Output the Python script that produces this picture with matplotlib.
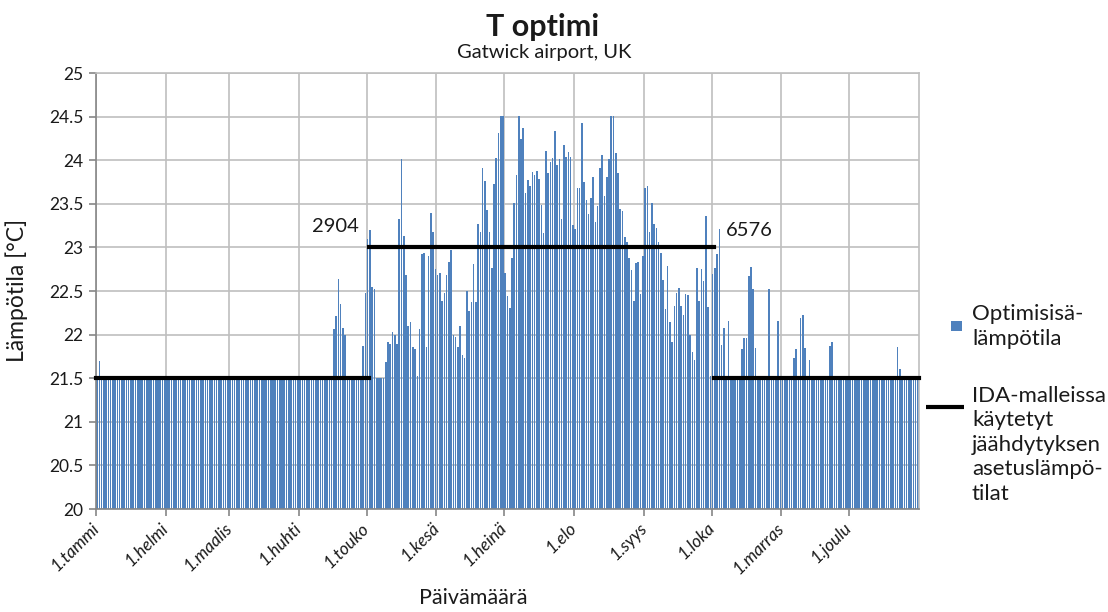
import matplotlib
matplotlib.use("Agg")
import matplotlib.pyplot as plt
import numpy as np
from matplotlib.lines import Line2D
from matplotlib.patches import Rectangle

plt.rcParams['font.family'] = ['Lato', 'DejaVu Sans']

# ---------------- data ----------------
month_labels = ["1.tammi", "1.helmi", "1.maalis", "1.huhti", "1.touko", "1.kesä",
                "1.heinä", "1.elo", "1.syys", "1.loka", "1.marras", "1.joulu"]
days_in_month = [31, 28, 31, 30, 31, 30, 31, 31, 30, 31, 30, 31]

t_jan = [21.5, 21.7, 21.5, 21.5, 21.5, 21.5, 21.5, 21.5, 21.5, 21.5,
         21.5, 21.5, 21.5, 21.5, 21.5, 21.5, 21.5, 21.5, 21.5, 21.5,
         21.5, 21.5, 21.5, 21.5, 21.5, 21.5, 21.5, 21.5, 21.5, 21.5, 21.5]
t_feb = [21.5, 21.5, 21.5, 21.5, 21.5, 21.5, 21.5, 21.5, 21.5, 21.5,
         21.5, 21.5, 21.5, 21.5, 21.5, 21.5, 21.5, 21.5, 21.5, 21.5,
         21.5, 21.5, 21.5, 21.5, 21.5, 21.5, 21.5, 21.5]
t_mar = [21.5, 21.5, 21.5, 21.5, 21.5, 21.5, 21.5, 21.5, 21.5, 21.5,
         21.5, 21.5, 21.5, 21.5, 21.5, 21.5, 21.5, 21.5, 21.5, 21.5,
         21.5, 21.5, 21.5, 21.5, 21.5, 21.5, 21.5, 21.5, 21.5, 21.5, 21.5]
t_apr = [21.5, 21.5, 21.5, 21.5, 21.5, 21.5, 21.5, 21.5, 21.5, 21.5,
         21.5, 21.5, 21.5, 21.5, 21.5, 22.06, 22.21, 22.64, 22.35, 22.08,
         22.0, 21.5, 21.5, 21.5, 21.5, 21.5, 21.5, 21.5, 21.87, 22.48]
t_may = [23.1, 23.2, 22.55, 22.52, 21.5, 21.5, 21.5, 21.5, 21.69, 21.92,
         21.89, 22.03, 22.0, 21.89, 23.32, 24.01, 23.13, 22.68, 22.1, 22.14,
         21.86, 21.83, 21.53, 22.06, 22.93, 22.94, 21.86, 22.9, 23.39, 23.18, 22.75]
t_jun = [22.68, 22.71, 22.38, 22.48, 22.68, 22.83, 22.97, 22.0, 21.97, 21.86,
         22.1, 21.77, 21.73, 22.5, 22.27, 22.37, 22.81, 22.37, 23.27, 23.18,
         23.91, 23.76, 23.43, 23.18, 22.76, 23.73, 24.03, 24.31, 24.51, 24.51]
t_jul = [22.71, 22.44, 22.3, 22.88, 23.51, 23.83, 24.51, 24.24, 24.37, 23.62,
         23.77, 23.7, 23.87, 23.83, 23.88, 23.78, 23.49, 23.16, 24.11, 23.85,
         23.98, 24.03, 24.34, 23.95, 24.01, 23.33, 24.17, 24.04, 24.09, 24.04, 23.26]
t_aug = [23.21, 23.68, 23.68, 24.43, 23.75, 23.54, 23.38, 23.57, 23.81, 23.29,
         23.47, 23.91, 24.06, 23.59, 23.81, 24.01, 24.51, 24.51, 24.08, 23.85,
         23.44, 23.42, 23.12, 23.06, 22.88, 22.74, 22.38, 22.82, 22.83, 22.46, 22.9]
t_sep = [23.68, 23.7, 23.18, 23.51, 23.27, 23.22, 23.06, 22.94, 22.63, 22.29,
         22.79, 22.14, 21.92, 22.33, 22.48, 22.53, 22.33, 22.22, 22.47, 22.45,
         22.0, 21.8, 21.71, 22.76, 22.39, 22.75, 22.62, 23.36, 22.32, 21.52]
t_oct = [22.69, 22.76, 22.92, 23.21, 21.88, 22.08, 21.5, 22.16, 21.5, 21.5,
         21.5, 21.5, 21.5, 21.83, 21.96, 21.96, 22.67, 22.78, 22.52, 21.85,
         21.5, 21.5, 21.5, 21.5, 21.5, 22.52, 21.5, 21.5, 21.5, 22.16, 21.5]
t_nov = [21.5, 21.5, 21.5, 21.5, 21.5, 21.73, 21.83, 21.5, 22.19, 22.22,
         21.85, 21.5, 21.71, 21.5, 21.5, 21.5, 21.5, 21.5, 21.5, 21.5,
         21.5, 21.87, 21.92, 21.5, 21.5, 21.5, 21.5, 21.5, 21.5, 21.5]
t_dec = [21.5, 21.5, 21.5, 21.5, 21.5, 21.5, 21.5, 21.5, 21.5, 21.5,
         21.5, 21.5, 21.5, 21.5, 21.5, 21.5, 21.5, 21.5, 21.5, 21.5,
         21.5, 21.86, 21.6, 21.5, 21.5, 21.5, 21.5, 21.5, 21.5, 21.5, 21.5]

# IDA model set points and the hours of the year where they change
ida_change_hours = [2904, 6576]
ida_setpoints = [21.5, 23.0, 21.5]

title = "T optimi"
subtitle = "Gatwick airport, UK"
ylabel = "Lämpötila [°C]"
xlabel = "Päivämäärä"
legend_bar = "Optimisisä-\nlämpötila"
legend_line = "IDA-malleissa\nkäytetyt\njäähdytyksen\nasetuslämpö-\ntilat"

# ---------------- figure ----------------
BAR = "#4F81BD"
GRID = "#BFBFBF"
AXC = "#868686"
TXT = "#1a1a1a"
W, H = 1108, 612

fig = plt.figure(figsize=(W / 100, H / 100), dpi=100)
L, R, T, B = 96, 919, 73, 509
ax = fig.add_axes([L / W, 1 - B / H, (R - L) / W, (B - T) / H])

temps = np.concatenate([t_jan, t_feb, t_mar, t_apr, t_may, t_jun,
                        t_jul, t_aug, t_sep, t_oct, t_nov, t_dec])
days = np.arange(len(temps))
ax.bar(days, temps, width=0.7, color=BAR, linewidth=0, zorder=2)

ax.set_xlim(-0.5, len(temps) - 0.5)
ax.set_ylim(20, 25)

month_starts = np.concatenate([[0], np.cumsum(days_in_month)[:-1]]) - 0.5
ax.set_xticks(month_starts)
ax.set_xticklabels(month_labels, rotation=45, ha='right', va='center',
                   rotation_mode='anchor', style='italic', fontsize=12.5,
                   color=TXT)
yt = np.arange(20, 25.01, 0.5)
ax.set_yticks(yt)
ax.set_yticklabels([f"{v:g}" for v in yt], fontsize=12.5, color=TXT)

ax.grid(True, color=GRID, linewidth=1.2, zorder=0)
ax.set_axisbelow(True)
for s in ['top', 'right']:
    ax.spines[s].set_color(GRID)
    ax.spines[s].set_linewidth(1.2)
for s in ['left', 'bottom']:
    ax.spines[s].set_color(AXC)
    ax.spines[s].set_linewidth(1.2)
ax.tick_params(axis='both', length=5, color=AXC, width=1.2, pad=4)
ax.tick_params(axis='x', pad=7)

# IDA set point lines
edges = np.concatenate([[0], np.array(ida_change_hours) / 24.0, [len(temps)]]) - 0.5
for i, sp in enumerate(ida_setpoints):
    ax.plot([edges[i], edges[i + 1]], [sp, sp], color='black', linewidth=3.0,
            solid_capstyle='projecting', zorder=4, clip_on=False)

ax.annotate(str(ida_change_hours[0]), xy=(edges[1], ida_setpoints[1]),
            xytext=(-33, 21), textcoords='offset pixels', ha='center', va='center',
            fontsize=14.5, color=TXT)
ax.annotate(str(ida_change_hours[1]), xy=(edges[2], ida_setpoints[1]),
            xytext=(35, 17), textcoords='offset pixels', ha='center', va='center',
            fontsize=14.5, color=TXT)

# titles and axis labels
fig.text(543 / W, 1 - 36 / H, title, ha='center', va='baseline', fontsize=22,
         fontweight='bold', color=TXT)
fig.text(544 / W, 1 - 58 / H, subtitle, ha='center', va='baseline', fontsize=14.5,
         color=TXT)
fig.text(17 / W, 1 - 290 / H, ylabel, rotation=90, ha='center', va='center',
         fontsize=16.5, color=TXT)
fig.text(473 / W, 1 - 598 / H, xlabel, ha='center', va='center', fontsize=15.5,
         color=TXT)

# legend (drawn manually)
fig.add_artist(Rectangle((950.5 / W, 1 - 331 / H), 11 / W, 10 / H,
                         transform=fig.transFigure, facecolor=BAR, edgecolor='none'))
fig.text(972 / W, 1 - 304 / H, legend_bar, ha='left', va='top', fontsize=16,
         linespacing=1.3, color=TXT)
fig.add_artist(Line2D([926 / W, 964 / W], [1 - 407 / H, 1 - 407 / H],
                      transform=fig.transFigure, color='black', linewidth=3.0,
                      solid_capstyle='butt'))
fig.text(972 / W, 1 - 386 / H, legend_line, ha='left', va='top', fontsize=16,
         linespacing=1.28, color=TXT)

fig.savefig("out.png", dpi=100)
